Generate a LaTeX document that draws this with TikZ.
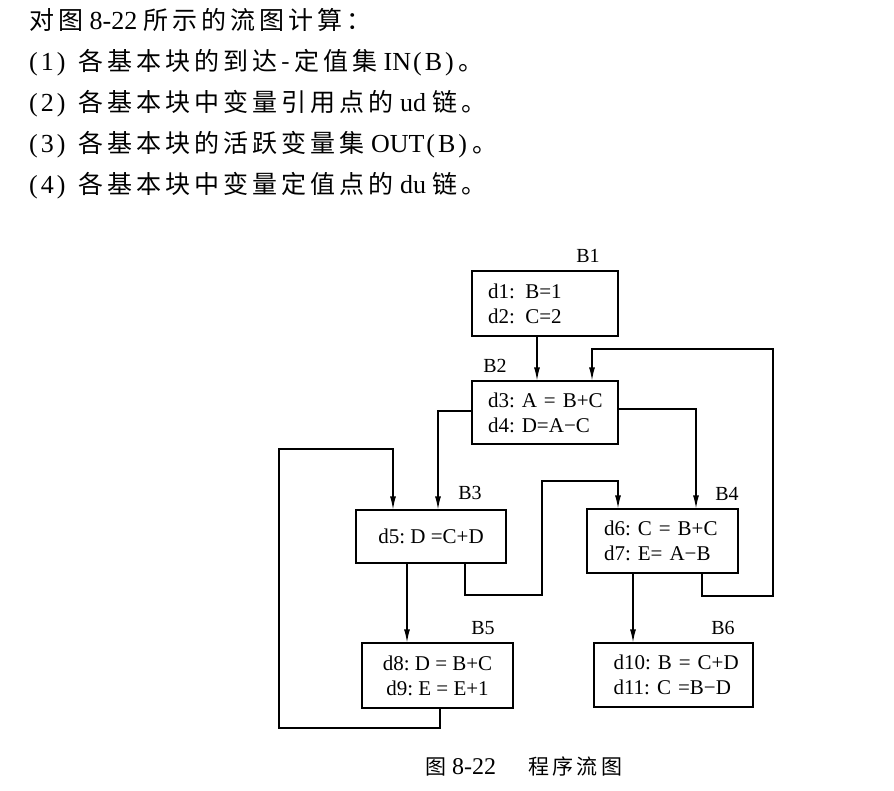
\documentclass[tikz,border=0pt]{standalone}
\usepackage{fontspec}
\setmainfont{Liberation Serif}
\newfontfamily\cjk[LetterSpace=16]{Noto Sans CJK SC}
\usetikzlibrary{arrows.meta}
\frenchspacing

% Chinese run at a given size
\newcommand{\zh}[2][25]{{\fontsize{#1}{#1}\cjk #2}}
% item number in parentheses, and a parenthesised argument
\newcommand{\itemno}[1]{(\hspace{3pt}#1\hspace{3pt})\hspace{13pt}}
\newcommand{\parg}[1]{\hspace{2pt}(\hspace{3pt}#1\hspace{3pt})\hspace{5pt}}

\begin{document}
\begin{tikzpicture}[x=1pt,y=-1pt,
  every node/.style={inner sep=0pt},
  box/.style={draw, line width=1.2pt, font=\fontsize{21}{25}\selectfont},
  lbl/.style={font=\fontsize{20}{20}\selectfont},
  flow/.style={line width=1.2pt, -{Latex[length=13pt,width=6pt]}},
  txt/.style={anchor=base west, font=\fontsize{26}{26}\selectfont},
  captxt/.style={anchor=base west, font=\fontsize{24}{24}\selectfont}]
\useasboundingbox (0,0) rectangle (894,790);

% exercise statement
\node[txt] (t0) at (29,29) {\zh{对图} 8-22 \zh{所示的流图计算：}};
\node[txt] (t1) at (29,70) {\itemno{1}\zh{各基本块的到达-定值集} IN\parg{B}\zh{。}};
\node[txt] (t2) at (29,111) {\itemno{2}\zh{各基本块中变量引用点的} ud \zh{链。}};
\node[txt] (t3) at (29,152) {\itemno{3}\zh{各基本块的活跃变量集} OUT\parg{B}\zh{。}};
\node[txt] (t4) at (29,193) {\itemno{4}\zh{各基本块中变量定值点的} du \zh{链。}};

% basic blocks
\node[box, minimum width=146pt, minimum height=65pt, text width=114pt, align=left]
  (b1) at (545,303.5) {\mbox{d1:\enspace B=1}\\ \mbox{d2:\enspace C=2}};
\node[box, minimum width=146pt, minimum height=63pt, text width=114pt, align=left]
  (b2) at (545,412.5) {\mbox{d3: A = B+C}\\ \mbox{d4: D=A−C}};
\node[box, minimum width=150pt, minimum height=53pt, align=center]
  (b3) at (431,536.5) {d5: D =C+D};
\node[box, minimum width=151pt, minimum height=64pt, text width=117pt, align=left]
  (b4) at (662.5,541) {\mbox{d6: C = B+C}\\ \mbox{d7: E= A−B}};
\node[box, minimum width=151pt, minimum height=65pt, align=center]
  (b5) at (437.5,675.5) {d8: D = B+C\\ d9: E = E+1};
\node[box, minimum width=159pt, minimum height=64pt, text width=120pt, align=left]
  (b6) at (673.5,675) {\mbox{d10: B = C+D}\\ \mbox{d11: C =B−D}};

% block names
\node[lbl] (n1) at (588,256) {B1};
\node[lbl] (n2) at (495,366) {B2};
\node[lbl] (n3) at (470,493) {B3};
\node[lbl] (n4) at (727,494) {B4};
\node[lbl] (n5) at (483,628) {B5};
\node[lbl] (n6) at (723,628) {B6};

% bends of the edges
\coordinate (x12) at (537,0);
\coordinate (j23) at (438,411);
\coordinate (j24) at (696,409);
\coordinate (x35) at (407,0);
\coordinate (x46) at (633,0);
\coordinate (p1) at (465,595);
\coordinate (p2) at (542,481);
\coordinate (p3) at (618,481);
\coordinate (q1) at (702,596);
\coordinate (q2) at (773,349);
\coordinate (q3) at (592,349);
\coordinate (r1) at (440,728);
\coordinate (r2) at (279,449);
\coordinate (r3) at (393,449);

% edges
\draw[flow] (b1.south -| x12) -- (b2.north -| x12);
\draw[flow] (b2.west |- j23) -- (j23) -- (b3.north -| j23);
\draw[flow] (b2.east |- j24) -- (j24) -- (b4.north -| j24);
\draw[flow] (b3.south -| x35) -- (b5.north -| x35);
\draw[flow] (b4.south -| x46) -- (b6.north -| x46);
\draw[flow] (b3.south -| p1) -- (p1) -- (p1 -| p2) -- (p2) -- (p3) -- (b4.north -| p3);
\draw[flow] (b4.south -| q1) -- (q1) -- (q1 -| q2) -- (q2) -- (q3) -- (b2.north -| q3);
\draw[flow] (b5.south -| r1) -- (r1) -- (r1 -| r2) -- (r2) -- (r3) -- (b3.north -| r3);

% caption
\node[captxt] (cap) at (425,774) {\zh[21]{图} 8-22\hspace{32pt}\zh[21]{程序流图}};
\end{tikzpicture}
\end{document}
